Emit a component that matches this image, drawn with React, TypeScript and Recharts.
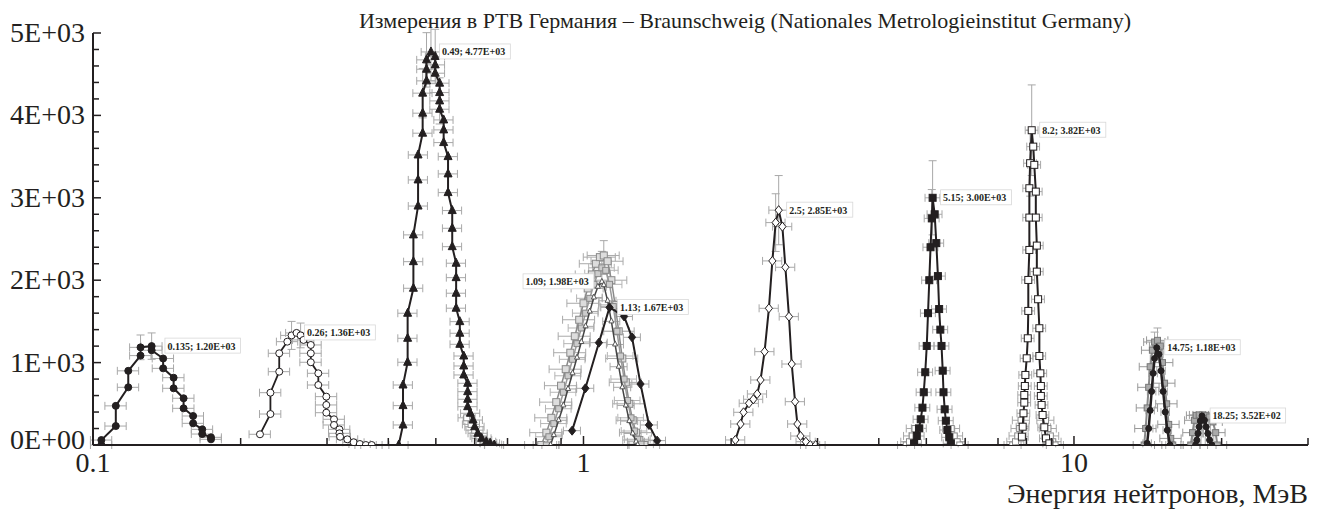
import React from "react";
import {
  ScatterChart,
  Scatter,
  XAxis,
  YAxis,
  ErrorBar,
  ReferenceDot
} from "recharts";

type Pt = [number, number];

// energy (MeV), count
const peak0135: Pt[] = [
  [0.104, 0], [0.104, 60], [0.1113, 230], [0.1113, 475], [0.118, 700], [0.118, 900],
  [0.125, 1085], [0.125, 1185], [0.1317, 1200], [0.1317, 1150], [0.139, 1050], [0.139, 930],
  [0.146, 817], [0.146, 688], [0.153, 567], [0.153, 445], [0.16, 352], [0.16, 263],
  [0.167, 190], [0.167, 133], [0.174, 93], [0.174, 69]
];
const peak026: Pt[] = [
  [0.219, 130], [0.23, 376], [0.23, 635], [0.2397, 890], [0.2397, 1113], [0.249, 1254],
  [0.254, 1330], [0.26, 1360], [0.265, 1330], [0.2686, 1275], [0.278, 1214], [0.278, 1113],
  [0.278, 1004], [0.288, 870], [0.288, 728], [0.299, 587], [0.299, 486], [0.299, 392],
  [0.31, 312], [0.31, 243], [0.318, 190], [0.318, 142], [0.319, 100], [0.33, 69],
  [0.34, 33], [0.35, 12], [0.36, 0], [0.37, 0]
];
const peak049: Pt[] = [
  [0.42, 0], [0.4286, 243], [0.4286, 478], [0.4286, 728], [0.438, 1004], [0.438, 1295],
  [0.438, 1599], [0.45, 1902], [0.45, 2225], [0.45, 2550], [0.46, 2900], [0.46, 3217],
  [0.46, 3520], [0.47, 3784], [0.47, 4027], [0.47, 4270], [0.4786, 4419], [0.4786, 4560],
  [0.4786, 4674], [0.4887, 4770], [0.4985, 4715], [0.4985, 4613], [0.4985, 4512],
  [0.509, 4391], [0.509, 4277], [0.509, 4176], [0.509, 4075], [0.5187, 3945], [0.5187, 3824],
  [0.5187, 3670], [0.5295, 3500], [0.5295, 3290], [0.5295, 3063], [0.54, 2845], [0.54, 2630],
  [0.54, 2407], [0.55, 2206], [0.55, 2031], [0.55, 1842], [0.55, 1660], [0.5596, 1497],
  [0.5596, 1356], [0.5596, 1222], [0.57, 1080], [0.57, 959], [0.57, 850], [0.5806, 749],
  [0.5806, 647], [0.5806, 555], [0.5806, 465], [0.588, 385], [0.5954, 303], [0.6, 222],
  [0.609, 142], [0.62, 81], [0.6337, 40], [0.6453, 21], [0.6577, 0]
];
const tail049: Pt[] = [
  [0.578, 330], [0.59, 250], [0.6, 180], [0.612, 110], [0.625, 60], [0.64, 25], [0.655, 5]
];
const grey110: Pt[] = [
  [0.82, 0], [0.84, 150], [0.86, 330], [0.88, 520], [0.9, 720], [0.92, 920], [0.94, 1120],
  [0.96, 1320], [0.98, 1520], [1.0, 1720], [1.02, 1900], [1.04, 2070], [1.06, 2200],
  [1.08, 2280], [1.1, 2300], [1.12, 2230], [1.14, 2000], [1.16, 1700], [1.18, 1380],
  [1.2, 1050], [1.22, 760], [1.24, 500], [1.26, 300], [1.28, 150], [1.3, 60], [1.33, 0]
];
const grey111: Pt[] = [
  [0.84, 0], [0.85, 100], [0.87, 260], [0.89, 440], [0.91, 640], [0.93, 840], [0.95, 1040],
  [0.97, 1230], [0.99, 1420], [1.01, 1600], [1.03, 1780], [1.05, 1950], [1.07, 2080],
  [1.09, 2150], [1.11, 2120], [1.13, 1950], [1.15, 1680], [1.17, 1380], [1.19, 1080],
  [1.21, 800], [1.23, 540], [1.25, 330], [1.27, 170], [1.29, 70], [1.31, 10]
];
const peak109: Pt[] = [
  [0.857, 0], [0.87, 120], [0.89, 300], [0.91, 480], [0.93, 680], [0.95, 870], [0.97, 1060],
  [0.99, 1250], [1.01, 1440], [1.03, 1620], [1.05, 1790], [1.07, 1920], [1.09, 1980],
  [1.1, 1940], [1.12, 1750], [1.14, 1500], [1.16, 1220], [1.18, 950], [1.2, 700],
  [1.22, 480], [1.24, 290], [1.26, 140], [1.28, 40], [1.29, 0]
];
const peak113: Pt[] = [
  [0.948, 174], [1.009, 688], [1.075, 1242], [1.13, 1670], [1.21, 1560], [1.256, 1307],
  [1.307, 740], [1.36, 243], [1.413, 53]
];
const peak25: Pt[] = [
  [2.04, 61], [2.09, 255], [2.12, 397], [2.175, 506], [2.22, 555], [2.26, 619], [2.296, 789],
  [2.34, 1133], [2.388, 1659], [2.427, 2234], [2.465, 2699], [2.5, 2850], [2.544, 2650],
  [2.58, 2157], [2.624, 1558], [2.658, 983], [2.7, 526], [2.73, 255], [2.77, 109],
  [2.84, 40], [2.9, 0], [2.975, 0]
];
const peak515: Pt[] = [
  [4.72, 20], [4.78, 109], [4.83, 202], [4.87, 312], [4.91, 453], [4.94, 640], [4.975, 883],
  [5.01, 1202], [5.04, 1600], [5.07, 2000], [5.1, 2400], [5.13, 2750], [5.15, 3000],
  [5.2, 2800], [5.24, 2450], [5.28, 2050], [5.31, 1650], [5.34, 1400], [5.37, 1202],
  [5.4, 902], [5.42, 640], [5.45, 433], [5.48, 295], [5.52, 182], [5.57, 93], [5.61, 20]
];
const tail515: Pt[] = [
  [4.55, 0], [4.62, 40], [4.68, 110], [4.74, 200], [5.62, 200], [5.7, 110], [5.78, 40], [5.85, 0]
];
const peak82: Pt[] = [
  [7.83, 101], [7.86, 222], [7.89, 385], [7.92, 514], [7.92, 607], [7.94, 716], [7.96, 850],
  [8.01, 1052], [8.05, 1295], [8.07, 1627], [8.07, 2003], [8.11, 2367], [8.11, 2760],
  [8.11, 3116], [8.14, 3420], [8.2, 3820], [8.26, 3621], [8.3, 3400], [8.36, 3075],
  [8.36, 2760], [8.4, 2420], [8.4, 2104], [8.45, 1769], [8.5, 1417], [8.5, 1080],
  [8.54, 870], [8.56, 716], [8.56, 595], [8.59, 486], [8.63, 364], [8.7, 215], [8.77, 81],
  [8.91, 20]
];
const tail82: Pt[] = [
  [7.5, 0], [7.6, 40], [7.68, 110], [7.75, 200], [7.8, 300], [8.75, 300], [8.85, 200],
  [8.95, 110], [9.05, 40], [9.15, 0]
];
const grey1475: Pt[] = [
  [13.9, 0], [14.0, 200], [14.1, 450], [14.2, 700], [14.3, 950], [14.45, 1150], [14.6, 1250],
  [14.8, 1270], [15.0, 1200], [15.15, 1000], [15.3, 750], [15.45, 500], [15.6, 250],
  [15.75, 80], [15.9, 0]
];
const peak1475: Pt[] = [
  [14.1, 20], [14.2, 200], [14.3, 420], [14.4, 650], [14.5, 870], [14.6, 1050], [14.75, 1180],
  [14.9, 1100], [15.05, 900], [15.2, 650], [15.35, 400], [15.5, 180], [15.7, 0]
];
const grey1825: Pt[] = [
  [17.3, 0], [17.45, 150], [17.6, 300], [17.75, 360], [18.0, 365], [18.3, 365], [18.6, 360],
  [18.9, 340], [19.2, 280], [19.45, 150], [19.6, 0]
];
const peak1825: Pt[] = [
  [17.7, 0], [17.8, 60], [17.9, 140], [18.0, 220], [18.1, 290], [18.25, 352], [18.45, 300],
  [18.6, 220], [18.75, 140], [18.9, 60], [19.1, 0]
];
// vertical uncertainty bars near the peaks: energy, count, ± count
const peakBars: [number, number, number][] = [
  [0.125, 1185, 150], [0.1317, 1200, 160], [0.254, 1330, 170], [0.265, 1330, 150],
  [0.47, 4270, 300], [0.4786, 4674, 330], [0.4887, 4770, 350], [0.4985, 4715, 330],
  [0.509, 4176, 280], [1.09, 2150, 200], [1.1, 2300, 180], [2.465, 2699, 350],
  [2.5, 2850, 420], [5.13, 2750, 350], [5.15, 3000, 450], [8.14, 3420, 400],
  [8.2, 3820, 550], [14.6, 1250, 120], [14.8, 1270, 150]
];

const notes = [
  { e: 0.135, v: 1200, text: "0.135; 1.20E+03", side: "right" },
  { e: 0.26, v: 1360, text: "0.26; 1.36E+03", side: "right" },
  { e: 0.49, v: 4770, text: "0.49; 4.77E+03", side: "right" },
  { e: 1.09, v: 1980, text: "1.09; 1.98E+03", side: "left" },
  { e: 1.13, v: 1670, text: "1.13; 1.67E+03", side: "right" },
  { e: 2.5, v: 2850, text: "2.5; 2.85E+03", side: "right" },
  { e: 5.15, v: 3000, text: "5.15; 3.00E+03", side: "right" },
  { e: 8.2, v: 3820, text: "8.2; 3.82E+03", side: "right" },
  { e: 14.75, v: 1180, text: "14.75; 1.18E+03", side: "right" },
  { e: 18.25, v: 352, text: "18.25; 3.52E+02", side: "right" }
];

const xTicks = [
  0.1, 0.2, 0.3, 0.4, 0.5, 0.6, 0.7, 0.8, 0.9,
  1, 2, 3, 4, 5, 6, 7, 8, 9,
  10, 20, 30
];
const xMajor = [0.1, 1, 10];
const yTicks = [
  0, 200, 400, 600, 800, 1000, 1200, 1400, 1600, 1800, 2000, 2200, 2400, 2600, 2800,
  3000, 3200, 3400, 3600, 3800, 4000, 4200, 4400, 4600, 4800, 5000
];

const FONT = "'Liberation Serif', 'Times New Roman', serif";
const INK = "#231f20";
const GREY = "#8a8a8a";
const ERR = "#a8a8a8";

type Kind = "circle" | "square" | "triangle" | "diamond" | "none";

const series = [
  { name: "tail049", pts: tail049, kind: "square", fill: "#fff", stroke: GREY, line: false, lw: 1, size: 6, err: 0.04, ec: ERR },
  { name: "grey110", pts: grey110, kind: "square", fill: "#ddd", stroke: GREY, line: GREY, lw: 1.5, size: 7, err: 0.075, ec: "#aaa" },
  { name: "grey111", pts: grey111, kind: "square", fill: "#ccc", stroke: "#888", line: "#999", lw: 1.5, size: 6, err: 0.06, ec: "#b5b5b5" },
  { name: "tail515", pts: tail515, kind: "square", fill: "#fff", stroke: GREY, line: false, lw: 1, size: 6, err: 0.04, ec: ERR },
  { name: "tail82", pts: tail82, kind: "square", fill: "#fff", stroke: GREY, line: false, lw: 1, size: 6, err: 0.04, ec: ERR },
  { name: "grey1475", pts: grey1475, kind: "square", fill: "#aaa", stroke: "#777", line: GREY, lw: 2, size: 6, err: 0.05, ec: "#999" },
  { name: "grey1825", pts: grey1825, kind: "square", fill: "#aaa", stroke: "#777", line: GREY, lw: 2, size: 6, err: 0.045, ec: "#999" },
  { name: "peak0135", pts: peak0135, kind: "circle", fill: INK, stroke: INK, line: INK, lw: 2, size: 7, err: 0.05, ec: ERR },
  { name: "peak026", pts: peak026, kind: "circle", fill: "#fff", stroke: INK, line: INK, lw: 1.8, size: 7, err: 0.05, ec: ERR },
  { name: "peak049", pts: peak049, kind: "triangle", fill: INK, stroke: INK, line: INK, lw: 2, size: 8, err: 0.045, ec: ERR },
  { name: "peak109", pts: peak109, kind: "triangle", fill: "#fff", stroke: "#555", line: "#444", lw: 1.5, size: 5, err: 0.04, ec: ERR },
  { name: "peak113", pts: peak113, kind: "diamond", fill: INK, stroke: INK, line: INK, lw: 2, size: 9, err: 0.04, ec: ERR },
  { name: "peak25", pts: peak25, kind: "diamond", fill: "#fff", stroke: INK, line: INK, lw: 2, size: 9, err: 0.045, ec: ERR },
  { name: "peak515", pts: peak515, kind: "square", fill: INK, stroke: INK, line: INK, lw: 2, size: 7, err: 0.035, ec: ERR },
  { name: "peak82", pts: peak82, kind: "square", fill: "#fff", stroke: INK, line: INK, lw: 2, size: 7, err: 0.03, ec: ERR },
  { name: "peak1475", pts: peak1475, kind: "circle", fill: INK, stroke: INK, line: INK, lw: 2.5, size: 6, err: 0.02, ec: ERR },
  { name: "peak1825", pts: peak1825, kind: "circle", fill: INK, stroke: INK, line: INK, lw: 3.5, size: 6, err: 0.02, ec: ERR }
];

const marker = (kind: Kind, size: number, fill: string, stroke: string) => (p: any) => {
  const { cx, cy } = p;
  if (cx == null || cy == null || kind === "none") return <g />;
  const h = size / 2;
  if (kind === "circle")
    return <circle cx={cx} cy={cy} r={h} fill={fill} stroke={stroke} strokeWidth={1} />;
  if (kind === "square")
    return <rect x={cx - h} y={cy - h} width={size} height={size} fill={fill} stroke={stroke} strokeWidth={1} />;
  if (kind === "triangle")
    return (
      <polygon
        points={`${cx},${cy - h - 1} ${cx + h},${cy + h - 1} ${cx - h},${cy + h - 1}`}
        fill={fill}
        stroke={stroke}
        strokeWidth={1}
      />
    );
  return (
    <polygon
      points={`${cx},${cy - h} ${cx + h * 0.8},${cy} ${cx},${cy + h} ${cx - h * 0.8},${cy}`}
      fill={fill}
      stroke={stroke}
      strokeWidth={1}
    />
  );
};

const XTick = (props: any) => {
  const { x, y, payload } = props;
  const major = xMajor.includes(payload.value);
  return (
    <g>
      <line x1={x} x2={x} y1={y} y2={y - (major ? 9 : 7)} stroke={INK} strokeWidth={1.5} />
      {major && (
        <text x={x} y={y + 27} textAnchor="middle" fontSize={28} fontFamily={FONT} fill={INK}>
          {payload.value}
        </text>
      )}
    </g>
  );
};

const YTick = (props: any) => {
  const { x, y, payload } = props;
  const v = payload.value;
  const major = v % 1000 === 0;
  return (
    <g>
      <line x1={x} x2={x + (major ? 8 : 6)} y1={y} y2={y} stroke={INK} strokeWidth={1.5} />
      {major && (
        <text x={x - 8} y={v === 0 ? y + 4 : y + 9} textAnchor="end" fontSize={28} fontFamily={FONT} fill={INK}>
          {v === 0 ? "0E+00" : `${v / 1000}E+03`}
        </text>
      )}
    </g>
  );
};

const Note = (p: any) => {
  const { cx, cy, text, side } = p;
  if (cx == null || cy == null) return <g />;
  const w = text.length * 4.7 + 5;
  const x = side === "right" ? cx + 8 : cx - 8 - w;
  return (
    <g>
      <rect x={x} y={cy - 8} width={w} height={15} fill="#fff" stroke="#d8d8d8" strokeWidth={0.8} />
      <text x={x + 2.5} y={cy + 3.5} fontSize={10} fontWeight="bold" fontFamily={FONT} fill={INK}>
        {text}
      </text>
    </g>
  );
};

export default function App() {
  return (
    <div style={{ position: "absolute", left: 0, top: 0, width: 1323, height: 510, background: "#fff" }}>
      <ScatterChart width={1323} height={510} margin={{ top: 33, right: 15, bottom: 35, left: 0 }}>
        <XAxis
          dataKey="e"
          type="number"
          scale="log"
          domain={[0.1, 30]}
          allowDataOverflow
          ticks={xTicks}
          interval={0}
          tick={<XTick />}
          tickLine={false}
          tickSize={0}
          tickMargin={0}
          height={30}
          axisLine={{ stroke: INK, strokeWidth: 2 }}
          label={{
            content: (lp: any) => {
              const vb = lp.viewBox;
              return (
                <text x={vb.x + vb.width} y={vb.y + 58} textAnchor="end" fontSize={28} fontFamily={FONT} fill={INK}>
                  Энергия нейтронов, МэВ
                </text>
              );
            }
          }}
        />
        <YAxis
          dataKey="v"
          type="number"
          domain={[0, 5000]}
          allowDataOverflow
          ticks={yTicks}
          interval={0}
          tick={<YTick />}
          tickLine={false}
          tickSize={0}
          tickMargin={0}
          width={93}
          axisLine={{ stroke: INK, strokeWidth: 2 }}
        />
        <Scatter
          name="peakBars"
          data={peakBars.map(([e, v, dy]) => ({ e, v, dy }))}
          shape={marker("none", 0, "none", "none")}
          isAnimationActive={false}
        >
          <ErrorBar dataKey="dy" direction="y" width={4} stroke={ERR} strokeWidth={1} />
        </Scatter>
        {series.map((s) => (
          <Scatter
            key={s.name}
            name={s.name}
            data={s.pts.map(([e, v]) => ({ e, v, dx: e * s.err }))}
            line={s.line ? { stroke: s.line as string, strokeWidth: s.lw } : false}
            shape={marker(s.kind as Kind, s.size, s.fill, s.stroke)}
            isAnimationActive={false}
          >
            <ErrorBar dataKey="dx" direction="x" width={4} stroke={s.ec} strokeWidth={1} />
          </Scatter>
        ))}
        {notes.map((n) => (
          <ReferenceDot
            key={n.text}
            x={n.e}
            y={n.v}
            r={0}
            shape={(p: any) => <Note {...p} text={n.text} side={n.side} />}
          />
        ))}
      </ScatterChart>
      <svg width={1323} height={40} style={{ position: "absolute", left: 0, top: 0, pointerEvents: "none" }}>
        <text x={745} y={28} textAnchor="middle" fontSize={22} fontFamily={FONT} fill={INK}>
          Измерения в PTB Германия – Braunschweig (Nationales Metrologieinstitut Germany)
        </text>
      </svg>
    </div>
  );
}
